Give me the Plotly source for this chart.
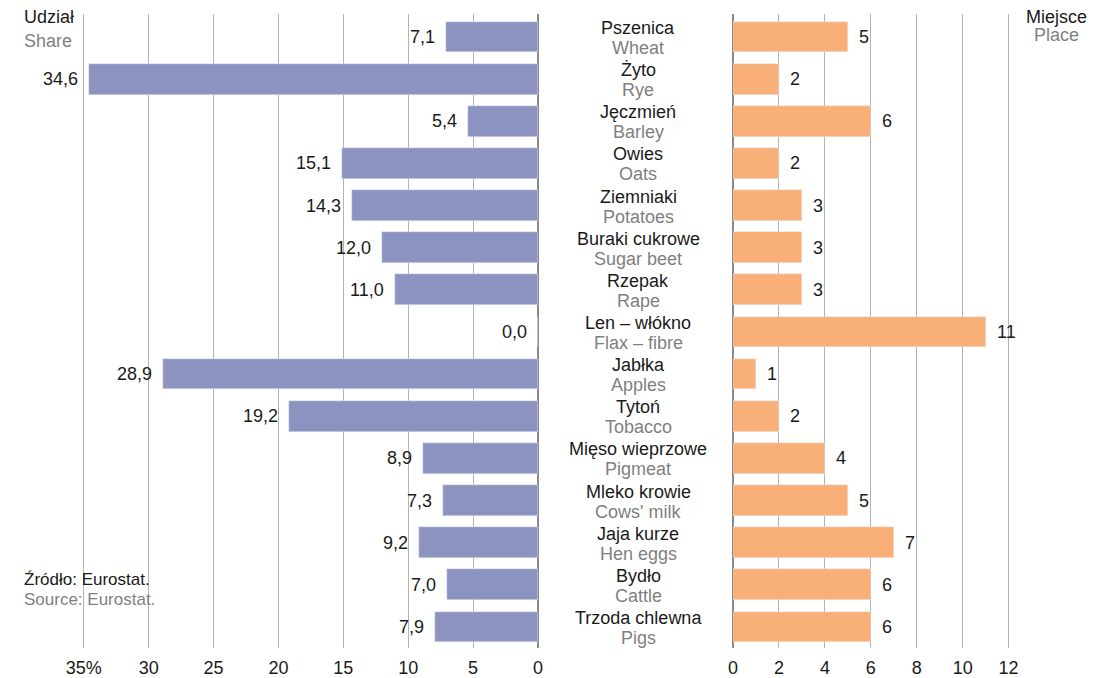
import plotly.graph_objects as go

# data
names_pl = ["Pszenica", "Żyto", "Jęczmień", "Owies", "Ziemniaki", "Buraki cukrowe",
            "Rzepak", "Len – włókno", "Jabłka", "Tytoń", "Mięso wieprzowe",
            "Mleko krowie", "Jaja kurze", "Bydło", "Trzoda chlewna"]
names_en = ["Wheat", "Rye", "Barley", "Oats", "Potatoes", "Sugar beet", "Rape",
            "Flax – fibre", "Apples", "Tobacco", "Pigmeat", "Cows' milk",
            "Hen eggs", "Cattle", "Pigs"]
share = [7.1, 34.6, 5.4, 15.1, 14.3, 12.0, 11.0, 0.0, 28.9, 19.2, 8.9, 7.3, 9.2, 7.0, 7.9]
place = [5, 2, 6, 2, 3, 3, 3, 11, 1, 2, 4, 5, 7, 6, 6]

share_ticks = [35, 30, 25, 20, 15, 10, 5, 0]
share_ticktext = ["35%", "30", "25", "20", "15", "10", "5", "0"]
place_ticks = [0, 2, 4, 6, 8, 10, 12]

FONT = "Liberation Sans, Arial, sans-serif"
FS = 18
PURPLE = "#8c93c1"
ORANGE = "#f9b078"
GREY = "#7f7f7f"
BLACK = "#1a1a1a"

fig = go.Figure()
fig.add_trace(go.Bar(x=share, y=names_pl, orientation="h", marker_color=PURPLE,
                     width=0.73, xaxis="x", yaxis="y", hoverinfo="x+y"))
fig.add_trace(go.Bar(x=place, y=names_pl, orientation="h", marker_color=ORANGE,
                     width=0.73, xaxis="x2", yaxis="y", hoverinfo="x+y"))

# value labels
for name, v in zip(names_pl, share):
    fig.add_annotation(x=v, y=name, xref="x", yref="y", text=f"{v:.1f}".replace(".", ","),
                       showarrow=False, xanchor="right", xshift=-9,
                       font=dict(size=FS, color=BLACK))
for name, v in zip(names_pl, place):
    fig.add_annotation(x=v, y=name, xref="x2", yref="y", text=str(v),
                       showarrow=False, xanchor="left", xshift=9,
                       font=dict(size=FS, color=BLACK))

# category labels in the middle (Polish above, English below)
for pl, en in zip(names_pl, names_en):
    fig.add_annotation(x=0.591, y=pl, xref="paper", yref="y", text=pl,
                       showarrow=False, xanchor="center", yanchor="middle", yshift=9,
                       font=dict(size=FS, color=BLACK))
    fig.add_annotation(x=0.591, y=pl, xref="paper", yref="y", text=en,
                       showarrow=False, xanchor="center", yanchor="middle", yshift=-11,
                       font=dict(size=FS, color=GREY))

# headers and source
side_text = [
    (-0.0568, 0.9953, "left", "Udział", BLACK),
    (-0.0568, 0.9580, "left", "Share", GREY),
    (1.0315, 0.9953, "center", "Miejsce", BLACK),
    (1.0315, 0.9670, "center", "Place", GREY),
    (-0.0568, 0.1085, "left", "Źródło: Eurostat.", BLACK),
    (-0.0568, 0.0770, "left", "Source: Eurostat.", GREY),
]
for x, y, anchor, txt, col in side_text:
    fig.add_annotation(x=x, y=y, xref="paper", yref="paper", text=txt, showarrow=False,
                       xanchor=anchor, yanchor="middle",
                       font=dict(size=FS - 1 if "Eurostat" in txt else FS, color=col))

axis_common = dict(showgrid=True, gridcolor="#b4b4b4", gridwidth=1,
                   zeroline=True, zerolinecolor="#8a8a8a", zerolinewidth=1.5,
                   ticks="", ticklabelstandoff=7, automargin=False,
                   tickfont=dict(size=FS, color=BLACK))

fig.update_layout(
    width=1106, height=670,
    margin=dict(l=68, r=87, t=6, b=30),
    plot_bgcolor="white", paper_bgcolor="white",
    showlegend=False, bargap=0,
    font=dict(family=FONT, size=FS, color=BLACK),
    xaxis=dict(domain=[0, 0.4858], range=[35.6, 0], tickvals=share_ticks,
               ticktext=share_ticktext, **axis_common),
    xaxis2=dict(domain=[0.6909, 1], range=[0, 12.8], tickvals=place_ticks, **axis_common),
    yaxis=dict(categoryorder="array", categoryarray=names_pl, autorange="reversed",
               showticklabels=False, showgrid=False, zeroline=False, automargin=False),
)

fig.write_html("out.html")
